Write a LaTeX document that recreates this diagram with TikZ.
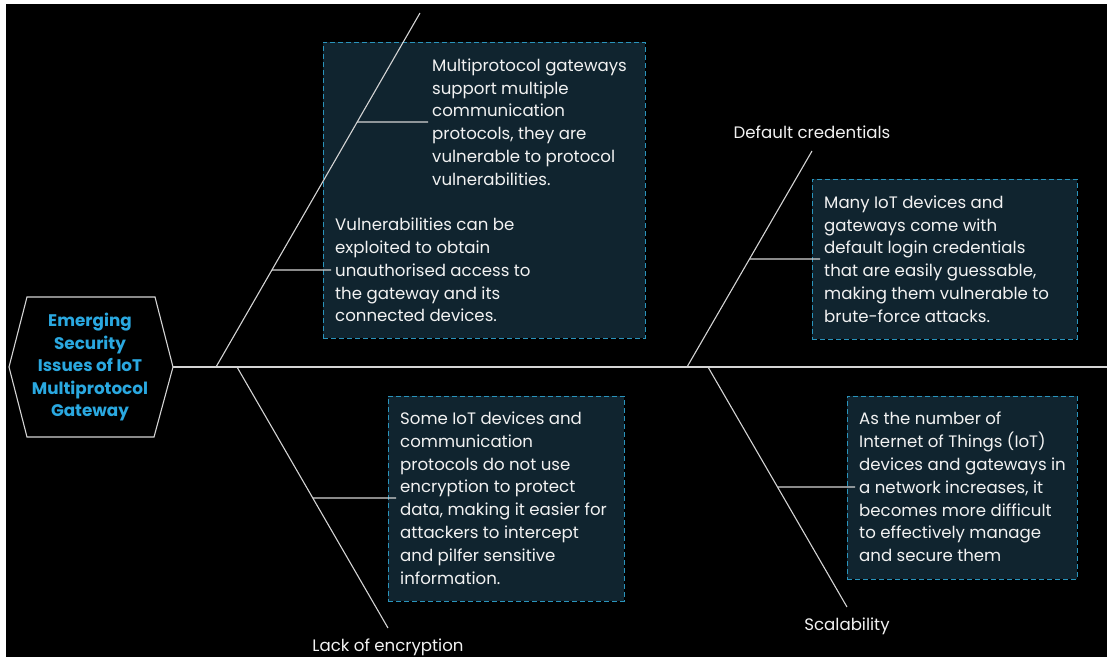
\documentclass[tikz,border=0pt]{standalone}
\usepackage{fontspec}
\setmainfont{Poppins}
\definecolor{boxfill}{HTML}{10242F}
\definecolor{boxline}{HTML}{2A94BC}
\definecolor{titleblue}{HTML}{2AA8E0}
\definecolor{linegray}{HTML}{D4D4D4}
\definecolor{txt}{HTML}{F2F2F2}
\begin{document}
\begin{tikzpicture}[x=1pt,y=-1pt,
  infobox/.style={draw=boxline, fill=boxfill, line width=1pt, dash pattern=on 5pt off 3pt, inner sep=0pt},
  bodytext/.style={text=txt, font=\fontsize{16.6}{22.8}\selectfont, align=left, anchor=west, inner xsep=4pt, inner ysep=0pt},
  labeltext/.style={text=txt, font=\fontsize{16.6}{18}\selectfont, inner sep=0pt},
  conn/.style={draw=linegray, line width=1.1pt},
  hexline/.style={draw=linegray, line width=1.1pt}]
\useasboundingbox (0,0) rectangle (1107,657);
\fill[white] (0,0) rectangle (1107,657);
\fill[black] (6,4) rectangle (1107,657);

% hexagon
\coordinate (hL) at (9,367);
\coordinate (hTL) at (27,297);
\coordinate (hTR) at (155,297);
\coordinate (hR) at (173,367);
\coordinate (hBR) at (154,437);
\coordinate (hBL) at (27,437);
\draw[hexline] (hL) -- (hTL) -- (hTR) -- (hR) -- (hBR) -- (hBL) -- cycle;
\node[text=titleblue, font=\bfseries\fontsize{16.8}{22.5}\selectfont, align=center, inner sep=0pt] (hex) at (90,367)
 {Emerging\\Security\\Issues of IoT\\Multiprotocol\\Gateway};

% boxes
\node[infobox, minimum width=322pt, minimum height=296pt] (box1) at (484,190) {};
\node[infobox, minimum width=265pt, minimum height=160pt] (box2) at (944.5,259) {};
\node[infobox, minimum width=236pt, minimum height=205pt] (box3) at (506,498.5) {};
\node[infobox, minimum width=230pt, minimum height=183pt] (box4) at (962,487.5) {};

% texts
\node[bodytext] (t1) at (428,122) {Multiprotocol gateways\\support multiple\\communication\\protocols, they are\\vulnerable to protocol\\vulnerabilities.};
\node[bodytext] (t2) at (331,270) {Vulnerabilities can be\\exploited to obtain\\unauthorised access to\\the gateway and its\\connected devices.};
\node[bodytext] (t3) at (820,259) {Many IoT devices and\\gateways come with\\default login credentials\\that are easily guessable,\\making them vulnerable to\\brute-force attacks.};
\node[bodytext] (t4) at (396,498) {Some IoT devices and\\communication\\protocols do not use\\encryption to protect\\data, making it easier for\\attackers to intercept\\and pilfer sensitive\\information.};
\node[bodytext] (t5) at (855,487) {As the number of\\Internet of Things (IoT)\\devices and gateways in\\a network increases, it\\becomes more difficult\\to effectively manage\\and secure them};

% labels
\node[labeltext] (l1) at (812,132) {Default credentials};
\node[labeltext] (l2) at (388,647) {Lack of encryption};
\node[labeltext] (l3) at (847,626) {Scalability};

% spine and branches
\coordinate (spineEnd) at (1107,367);
\coordinate (b1s) at (216,367); \coordinate (b1e) at (420,13);
\coordinate (b2s) at (237,367); \coordinate (b2e) at (388,628);
\coordinate (b3s) at (687,367); \coordinate (b3e) at (812,151);
\coordinate (b4s) at (708,367); \coordinate (b4e) at (847,607);
\draw[conn] (hR) -- (spineEnd);
\draw[conn] (b1s) -- (b1e);
\draw[conn] (b2s) -- (b2e);
\draw[conn] (b3s) -- (b3e);
\draw[conn] (b4s) -- (b4e);

\coordinate (s1) at (intersection of b1s--b1e and t1.west--t1.east);
\coordinate (s2) at (intersection of b1s--b1e and t2.west--t2.east);
\coordinate (s3) at (intersection of b3s--b3e and t3.west--t3.east);
\coordinate (s4) at (intersection of b2s--b2e and t4.west--t4.east);
\coordinate (s5) at (intersection of b4s--b4e and t5.west--t5.east);
\draw[conn] (s1) -- (t1.west);
\draw[conn] (s2) -- (t2.west);
\draw[conn] (s3) -- (t3.west);
\draw[conn] (s4) -- (t4.west);
\draw[conn] (s5) -- (t5.west);
\end{tikzpicture}
\end{document}
